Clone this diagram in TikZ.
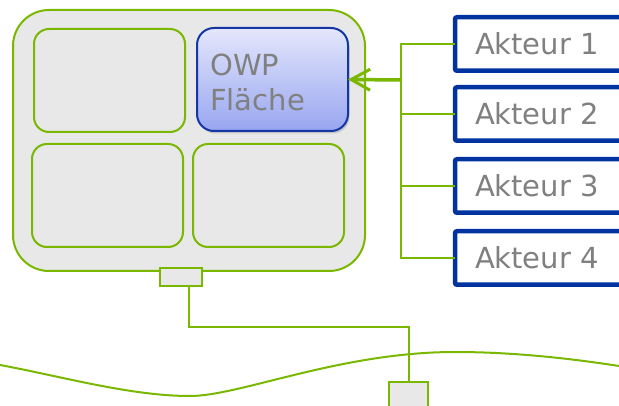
\documentclass[tikz,border=0pt]{standalone}
\usepackage{fontspec}
\setmainfont{DejaVu Sans}
\usetikzlibrary{arrows.meta,shadows}
\definecolor{lgreen}{RGB}{122,184,0}
\definecolor{boxgray}{RGB}{232,232,232}
\definecolor{dblue}{RGB}{0,51,160}
\definecolor{owpborder}{RGB}{20,55,165}
\definecolor{owptop}{RGB}{228,231,252}
\definecolor{owpbot}{RGB}{152,166,240}
\definecolor{txtgray}{RGB}{128,128,128}
\begin{document}
\begin{tikzpicture}[x=1pt,y=-1pt,
  outerbox/.style={draw=lgreen,fill=boxgray,line width=2pt,rounded corners=36pt,inner sep=0pt,outer sep=0pt},
  cell/.style={draw=lgreen,line width=2pt,rounded corners=15pt,inner sep=0pt,outer sep=0pt,minimum width=151pt,minimum height=103pt},
  owpbox/.style={cell,draw=owpborder,top color=owptop,bottom color=owpbot,rounded corners=17pt,
    drop shadow={opacity=0.35,shadow xshift=1.5pt,shadow yshift=-2.5pt}},
  akteur/.style={draw=dblue,fill=white,line width=4.5pt,rounded corners=2pt,outer sep=0pt,
    text width=140pt,align=left,inner xsep=20pt,inner ysep=0pt,minimum height=53.5pt,
    text=txtgray,font=\fontsize{29pt}{34pt}\selectfont},
  owptext/.style={anchor=base west,inner sep=0pt,text=txtgray,font=\fontsize{29pt}{34pt}\selectfont},
  port/.style={draw=lgreen,fill=boxgray,line width=2pt,inner sep=0pt,outer sep=0pt},
  link/.style={draw=lgreen,line width=2pt},
  bracket/.style={draw=lgreen,line width=2.5pt},
  feed/.style={draw=lgreen,line width=3.5pt,-{Straight Barb[length=19pt,width=21pt,line width=3pt]}}
]
\useasboundingbox (0,0) rectangle (619,406);
\begin{scope}
\clip (0,0) rectangle (619,406);
% wave
\draw[link] (0,365) .. controls (60,376) and (130,396) .. (190,396)
  .. controls (240,396) and (340,352) .. (455,352)
  .. controls (520,352) and (580,360) .. (619,366);
% main box
\node[outerbox,minimum width=352pt,minimum height=261pt] (main) at (189,140.5) {};
\node[cell] (c1) at (109.5,80.5) {};
\node[owpbox] (owp) at (272.5,79.5) {};
\node[owptext] (owp1) at (210,76) {OWP};
\node[owptext] (owp2) at (210,110.5) {Fläche};
\node[cell] (c3) at (107.5,195.5) {};
\node[cell] (c4) at (268.5,195.5) {};
% ports
\node[port,minimum width=42pt,minimum height=18pt] (p1) at (181,277) {};
\node[port,minimum width=39pt,minimum height=40pt] (p2) at (408.5,402) {};
\coordinate (bend) at (189,327);
\draw[link] ([xshift=8pt]p1.south) |- (bend) -| (p2.north);
% actors
\node[akteur] (a1) at (545,44) {Akteur 1};
\node[akteur] (a2) at (545,114) {Akteur 2};
\node[akteur] (a3) at (545,186) {Akteur 3};
\node[akteur] (a4) at (545,258) {Akteur 4};
\coordinate (j) at (401,80);
\draw[bracket] (a1.west) -| (j);
\draw[bracket] (a4.west) -| (j);
\draw[bracket] (a2.west) -- (a2.west -| j);
\draw[bracket] (a3.west) -- (a3.west -| j);
\draw[feed] (j) -- (owp.east);
\end{scope}
\end{tikzpicture}
\end{document}
